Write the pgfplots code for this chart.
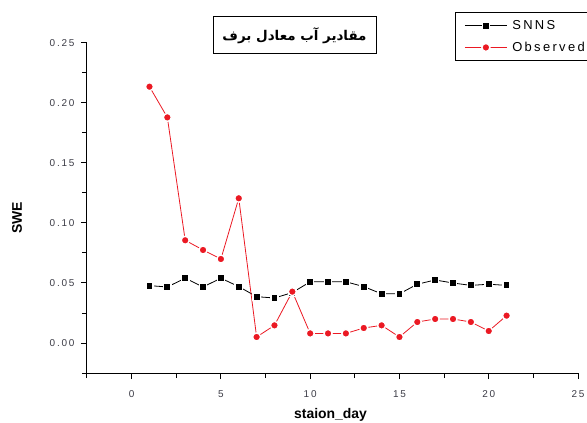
\documentclass[border=0pt]{standalone}
\usepackage{pgfplots}
\pgfplotsset{compat=1.18}
\usepackage{fontspec}
\setmainfont{Liberation Sans}
\newfontfamily\arabicfont[Script=Arabic]{DejaVu Sans}
\TeXXeTstate=1
\definecolor{ticklab}{RGB}{60,60,70}
\definecolor{obsred}{RGB}{235,25,35}
\begin{document}
\begin{tikzpicture}
\useasboundingbox (-87bp,-50bp) rectangle (500bp,373bp);
\begin{axis}[
  scale only axis, width=491bp, height=330bp,
  xmin=-2.5, xmax=25, ymin=-0.025, ymax=0.25,
  axis lines=left, axis line style={-, line width=1bp},
  xtick={0,5,10,15,20,25}, minor xtick={-2.5,2.5,7.5,12.5,17.5,22.5},
  ytick={0,0.05,0.10,0.15,0.20,0.25}, minor ytick={-0.025,0.025,0.075,0.125,0.175,0.225},
  tick align=outside, major tick length=6bp, minor tick length=5bp,
  tick style={line width=1bp, black},
  /pgf/number format/assume math mode=true,
  yticklabel style={/pgf/number format/.cd, fixed, fixed zerofill, precision=2, /tikz/xshift=-3bp},
  xticklabel style={/pgf/number format/.cd, fixed, precision=0, /tikz/yshift=-8bp},
  ticklabel style={font=\fontsize{10}{12}\selectfont\addfontfeature{LetterSpace=18}, text=ticklab},
  scaled y ticks=false,
  xlabel={staion\_day}, ylabel={SWE},
  label style={font=\bfseries\fontsize{14}{16}\selectfont},
  xlabel style={at={(axis description cs:0.496,-0.128)}, anchor=center},
  ylabel style={at={(axis description cs:-0.1426,0.47)}, anchor=center},
  legend style={at={(0.7495,1.094)}, anchor=north west, draw=black, line width=1bp,
    font=\fontsize{13}{15}\selectfont\addfontfeature{LetterSpace=18},
    inner xsep=9bp, inner ysep=6bp, row sep=7bp, cells={anchor=west}},
  legend image code/.code={\draw[mark repeat=2,mark phase=2,#1] plot coordinates {(0bp,0bp)(21bp,0bp)(42bp,0bp)}; \path (45bp,0bp);},
  legend cell align=left,
]
\addplot[black, line width=0.8bp, mark=square*, mark size=3.6bp, mark options={solid, fill=black, draw=white, line width=1.4bp}] coordinates {
(1,0.0478) (2,0.0467) (3,0.054) (4,0.0467) (5,0.054) (6,0.047) (7,0.0386) (8,0.0375) (9,0.042) (10,0.051) (11,0.051) (12,0.051) (13,0.047) (14,0.041) (15,0.041) (16,0.049) (17,0.0525) (18,0.050) (19,0.048) (20,0.049) (21,0.048)
};
\addlegendentry{SNNS}
\addplot[obsred, line width=0.8bp, mark=*, mark size=4bp, mark options={solid, fill=obsred, draw=white, line width=1.4bp}] coordinates {
(1,0.2136) (2,0.188) (3,0.0856) (4,0.0775) (5,0.070) (6,0.1206) (7,0.005) (8,0.0147) (9,0.0428) (10,0.008) (11,0.008) (12,0.008) (13,0.0125) (14,0.0147) (15,0.005) (16,0.0175) (17,0.020) (18,0.020) (19,0.0175) (20,0.010) (21,0.0228)
};
\addlegendentry{Observed}
\end{axis}
\node[draw=black, line width=1bp, minimum width=163bp, minimum height=37bp, inner sep=0pt] at (207.5bp,337.5bp)
  {\arabicfont\bfseries\fontsize{13.5}{16}\selectfont\beginR مقادیر آب معادل برف\endR};
\end{tikzpicture}
\end{document}
